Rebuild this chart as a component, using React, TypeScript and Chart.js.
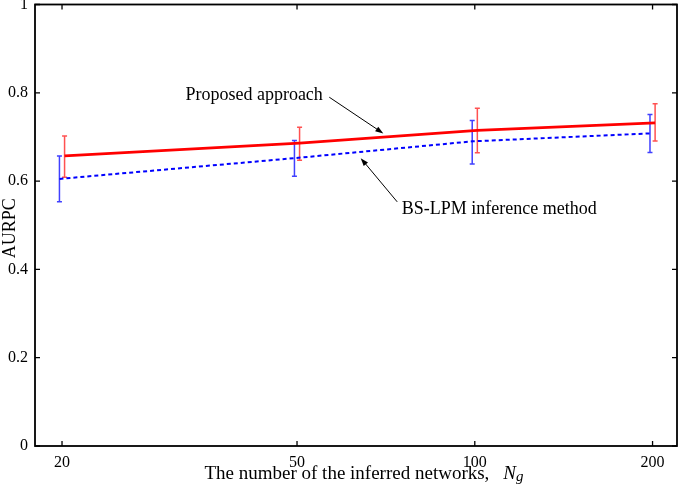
import { useEffect, useRef } from "react";
import { Chart, registerables } from "chart.js";

Chart.register(...registerables);

// data
const networkCounts = [20, 50, 100, 200];
const proposedMean = [0.657, 0.686, 0.715, 0.732];
const proposedLow = [0.609, 0.647, 0.664, 0.691];
const proposedHigh = [0.702, 0.722, 0.765, 0.775];
const bslpmMean = [0.605, 0.652, 0.69, 0.708];
const bslpmLow = [0.553, 0.611, 0.639, 0.665];
const bslpmHigh = [0.657, 0.692, 0.737, 0.751];
const yTicks = [0, 0.2, 0.4, 0.6, 0.8, 1];

const SERIF = "'Liberation Serif', 'Times New Roman', serif";
// the two series are nudged apart a little on the x axis
const PROPOSED_SHIFT = 1.01;
const BSLPM_SHIFT = 0.99;

const annotations = [
  { text: "Proposed approach", tx: 42.3, ty: 0.794, align: "center", from: [56.7, 0.79], to: [70, 0.708] },
  { text: "BS-LPM inference method", tx: 75.2, ty: 0.537, align: "left", from: [73.9, 0.553], to: [64.1, 0.652] },
];

function arrow(ctx: CanvasRenderingContext2D, x1: number, y1: number, x2: number, y2: number) {
  const ang = Math.atan2(y2 - y1, x2 - x1);
  const len = 8;
  const half = 2.8;
  ctx.beginPath();
  ctx.moveTo(x1, y1);
  ctx.lineTo(x2 - Math.cos(ang) * len * 0.8, y2 - Math.sin(ang) * len * 0.8);
  ctx.stroke();
  ctx.beginPath();
  ctx.moveTo(x2, y2);
  ctx.lineTo(x2 - Math.cos(ang) * len - Math.sin(ang) * half, y2 - Math.sin(ang) * len + Math.cos(ang) * half);
  ctx.lineTo(x2 - Math.cos(ang) * len + Math.sin(ang) * half, y2 - Math.sin(ang) * len - Math.cos(ang) * half);
  ctx.closePath();
  ctx.fill();
}

const decorations = {
  id: "decorations",
  beforeDatasetsDraw(chart: any) {
    const { ctx, scales } = chart;
    const xs = scales.x;
    const ys = scales.y;
    const bars = [
      { low: bslpmLow, high: bslpmHigh, shift: BSLPM_SHIFT, color: "rgba(30,30,255,0.85)" },
      { low: proposedLow, high: proposedHigh, shift: PROPOSED_SHIFT, color: "rgba(255,50,50,0.85)" },
    ];
    ctx.save();
    ctx.lineWidth = 1.5;
    bars.forEach((b) => {
      ctx.strokeStyle = b.color;
      networkCounts.forEach((n, i) => {
        const x = xs.getPixelForValue(n * b.shift);
        const y1 = ys.getPixelForValue(b.low[i]);
        const y2 = ys.getPixelForValue(b.high[i]);
        ctx.beginPath();
        ctx.moveTo(x, y1);
        ctx.lineTo(x, y2);
        ctx.moveTo(x - 2.5, y1);
        ctx.lineTo(x + 2.5, y1);
        ctx.moveTo(x - 2.5, y2);
        ctx.lineTo(x + 2.5, y2);
        ctx.stroke();
      });
    });
    ctx.restore();
  },
  afterDraw(chart: any) {
    const { ctx, chartArea, scales } = chart;
    const { left, right, top, bottom } = chartArea;
    const xs = scales.x;
    const ys = scales.y;
    ctx.save();
    // frame
    ctx.strokeStyle = "#000";
    ctx.lineWidth = 1.8;
    ctx.strokeRect(left, top, right - left, bottom - top);
    // inward ticks on all sides
    ctx.lineWidth = 1.3;
    ctx.beginPath();
    yTicks.forEach((v) => {
      const y = ys.getPixelForValue(v);
      ctx.moveTo(left, y);
      ctx.lineTo(left + 5, y);
      ctx.moveTo(right, y);
      ctx.lineTo(right - 5, y);
    });
    networkCounts.forEach((v) => {
      const x = xs.getPixelForValue(v);
      ctx.moveTo(x, bottom);
      ctx.lineTo(x, bottom - 5);
      ctx.moveTo(x, top);
      ctx.lineTo(x, top + 5);
    });
    ctx.stroke();

    // axis titles
    ctx.fillStyle = "#000";
    ctx.textBaseline = "alphabetic";
    ctx.font = `19px ${SERIF}`;
    const main = "The number of the inferred networks,";
    const mainW = ctx.measureText(main).width;
    ctx.font = `italic 19px ${SERIF}`;
    const nW = ctx.measureText("N").width;
    ctx.font = `italic 15px ${SERIF}`;
    const gW = ctx.measureText("g").width;
    const gap = 14;
    const total = mainW + gap + nW + gW;
    let tx = (left + right) / 2 + 8 - total / 2;
    const base = 479;
    ctx.textAlign = "left";
    ctx.font = `19px ${SERIF}`;
    ctx.fillText(main, tx, base);
    tx += mainW + gap;
    ctx.font = `italic 19px ${SERIF}`;
    ctx.fillText("N", tx, base);
    tx += nW;
    ctx.font = `italic 15px ${SERIF}`;
    ctx.fillText("g", tx, base + 2);

    ctx.save();
    ctx.translate(10.5, (top + bottom) / 2 + 3);
    ctx.rotate(-Math.PI / 2);
    ctx.textAlign = "center";
    ctx.textBaseline = "middle";
    ctx.font = `18px ${SERIF}`;
    ctx.fillText("AURPC", 0, 0);
    ctx.restore();

    // annotations with arrows
    ctx.font = `18px ${SERIF}`;
    ctx.textBaseline = "middle";
    ctx.lineWidth = 1;
    annotations.forEach((a) => {
      ctx.textAlign = a.align as CanvasTextAlign;
      ctx.fillText(a.text, xs.getPixelForValue(a.tx), ys.getPixelForValue(a.ty));
      arrow(
        ctx,
        xs.getPixelForValue(a.from[0]),
        ys.getPixelForValue(a.from[1]),
        xs.getPixelForValue(a.to[0]),
        ys.getPixelForValue(a.to[1])
      );
    });
    ctx.restore();
  },
};

export default function App() {
  const canvasRef = useRef<HTMLCanvasElement>(null);
  const chartRef = useRef<Chart | null>(null);

  useEffect(() => {
    document.body.style.margin = "0";
    if (!canvasRef.current) return;
    if (chartRef.current) chartRef.current.destroy();
    const ctx = canvasRef.current.getContext("2d");
    if (!ctx) return;

    const config: any = {
      type: "line",
      data: {
        datasets: [
          {
            label: "BS-LPM inference method",
            data: networkCounts.map((n, i) => ({ x: n * BSLPM_SHIFT, y: bslpmMean[i] })),
            borderColor: "#0000ff",
            borderWidth: 2,
            borderDash: [4, 3],
            pointRadius: 0,
            tension: 0,
            fill: false,
          },
          {
            label: "Proposed approach",
            data: networkCounts.map((n, i) => ({ x: n * PROPOSED_SHIFT, y: proposedMean[i] })),
            borderColor: "#ff0000",
            borderWidth: 2.8,
            pointRadius: 0,
            tension: 0,
            fill: false,
          },
        ],
      },
      options: {
        animation: false,
        responsive: false,
        maintainAspectRatio: false,
        layout: { padding: { top: 4.5, right: 3, left: 0, bottom: 0 } },
        plugins: {
          legend: { display: false },
          tooltip: { enabled: false },
        },
        scales: {
          x: {
            type: "logarithmic",
            min: 18,
            max: 220,
            afterBuildTicks: (s: any) => {
              s.ticks = networkCounts.map((v) => ({ value: v }));
            },
            afterFit: (s: any) => {
              s.height = 41;
              s.paddingLeft = 0;
              s.paddingRight = 0;
            },
            grid: { display: false, drawTicks: false },
            border: { display: false },
            ticks: {
              autoSkip: false,
              maxRotation: 0,
              padding: 7,
              color: "#000",
              font: { family: SERIF, size: 16 },
              callback: (v: any) => String(v),
            },
          },
          y: {
            min: 0,
            max: 1,
            afterBuildTicks: (s: any) => {
              s.ticks = yTicks.map((v) => ({ value: v }));
            },
            afterFit: (s: any) => {
              s.width = 35;
              s.paddingTop = 0;
              s.paddingBottom = 0;
            },
            grid: { display: false, drawTicks: false },
            border: { display: false },
            ticks: {
              padding: 7,
              color: "#000",
              font: { family: SERIF, size: 16 },
              callback: (v: any) => String(v),
            },
          },
        },
      },
      plugins: [decorations],
    };

    chartRef.current = new Chart(ctx, config);

    return () => {
      if (chartRef.current) {
        chartRef.current.destroy();
        chartRef.current = null;
      }
    };
  }, []);

  return (
    <div style={{ position: "relative", width: 680, height: 487, background: "#fff" }}>
      <canvas ref={canvasRef} width={680} height={487} />
    </div>
  );
}
